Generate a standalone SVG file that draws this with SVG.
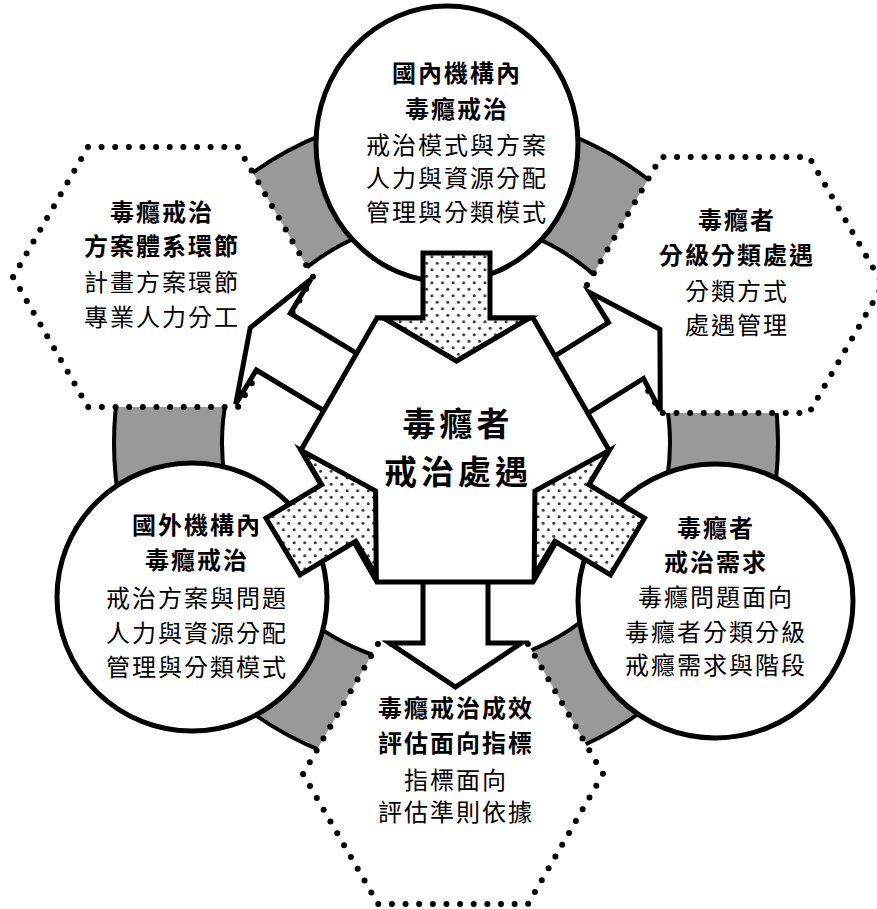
<svg xmlns="http://www.w3.org/2000/svg" width="877" height="909" viewBox="0 0 877 909">
<defs>
<pattern id="dots" patternUnits="userSpaceOnUse" width="10.6" height="13" x="0" y="0">
<rect width="10.6" height="13" fill="#fff"/>
<circle cx="2.6" cy="3.2" r="1.5" fill="#333"/>
<circle cx="7.9" cy="9.7" r="1.5" fill="#333"/>
</pattern>
<style>
.ring{fill:#999;stroke:#000;stroke-width:4;fill-rule:evenodd}
.hex{fill:#fff;stroke:#000;stroke-width:6;stroke-linecap:round;stroke-dasharray:0 13.636}
.circ{fill:#fff;stroke:#000;stroke-width:5}
.wa{fill:#fff;stroke:#000;stroke-width:5;stroke-linejoin:miter}
.da{fill:url(#dots);stroke:#000;stroke-width:5;stroke-linejoin:miter}
.core{fill:#fff;stroke:#000;stroke-width:5;stroke-linejoin:miter}
text{font-family:"Noto Sans CJK TC","Noto Sans CJK SC",sans-serif;fill:#000;text-anchor:middle}
.b{font-size:24px;font-weight:700;letter-spacing:2px}
.r{font-size:24px;font-weight:400;letter-spacing:2px}
.big{font-size:33px;font-weight:700;letter-spacing:4px}
</style>
</defs>
<rect width="877" height="909" fill="#fff"/>

<g id="ring">
<path class="ring" d="M114,443 a332,332 0 1,0 664,0 a332,332 0 1,0 -664,0 Z M222,443 a224,224 0 1,0 448,0 a224,224 0 1,0 -448,0 Z"/>
</g>

<g id="hex-program">
<polygon class="hex" points="13,277 88,147 238,147 313,277 238,407 88,407"/>
<text class="b" x="162" y="221">毒癮戒治</text>
<text class="b" x="162" y="255">方案體系環節</text>
<text class="r" x="162" y="291">計畫方案環節</text>
<text class="r" x="162" y="326">專業人力分工</text>
</g>

<g id="hex-classify">
<polygon class="hex" style="stroke-dasharray:0 13.662" points="587,285 661,157 809,157 883,285 809,413 661,413"/>
<text class="b" x="737" y="229">毒癮者</text>
<text class="b" x="737" y="264">分級分類處遇</text>
<text class="r" x="737" y="300">分類方式</text>
<text class="r" x="737" y="334">處遇管理</text>
</g>

<g id="hex-evaluate">
<polygon class="hex" points="303,774 378,644 528,644 603,774 528,904 378,904"/>
<text class="b" x="456" y="717">毒癮戒治成效</text>
<text class="b" x="456" y="752">評估面向指標</text>
<text class="r" x="456" y="789">指標面向</text>
<text class="r" x="456" y="821">評估準則依據</text>
</g>

<g id="circle-domestic">
<ellipse class="circ" cx="447" cy="144" rx="131" ry="138"/>
<text class="b" x="457" y="82">國內機構內</text>
<text class="b" x="457" y="118">毒癮戒治</text>
<text class="r" x="457" y="154">戒治模式與方案</text>
<text class="r" x="457" y="187">人力與資源分配</text>
<text class="r" x="457" y="221">管理與分類模式</text>
</g>

<g id="circle-foreign">
<ellipse class="circ" cx="192" cy="597" rx="135" ry="134"/>
<text class="b" x="197" y="534">國外機構內</text>
<text class="b" x="197" y="569">毒癮戒治</text>
<text class="r" x="197" y="607">戒治方案與問題</text>
<text class="r" x="197" y="642">人力與資源分配</text>
<text class="r" x="197" y="676">管理與分類模式</text>
</g>

<g id="circle-needs">
<ellipse class="circ" cx="715.5" cy="601" rx="137.5" ry="137"/>
<text class="b" x="716" y="537">毒癮者</text>
<text class="b" x="716" y="571">戒治需求</text>
<text class="r" x="716" y="606">毒癮問題面向</text>
<text class="r" x="716" y="641">毒癮者分類分級</text>
<text class="r" x="716" y="674">戒癮需求與階段</text>
</g>

<g id="connectors-out">
<polygon class="wa" points="384.9,447.3 256.3,370 235.7,404.3 250.2,327.8 310.9,279.1 290.3,313.4 418.9,390.7"/>
<polygon class="wa" points="481.3,402 608.5,322.5 589.7,292.4 659.9,329.3 660.3,410.6 643.5,378.5 516.3,458"/>
<polygon class="wa" points="423,520 488,520 488,643 521.5,643 455.5,687 389.5,643 423,643"/>
</g>

<g id="core">
<polygon class="core" points="377,318 533,318 609,450 533,582 377,582 301,450"/>
<text class="big" x="458" y="436">毒癮者</text>
<text class="big" x="458" y="484">戒治處遇</text>
</g>

<g id="connectors-in">
<polygon class="da" points="423,253 490,253 490,318 529.5,318 456.5,361 383.5,318 423,318"/>
<polygon class="da" points="266,518.2 321.7,484.7 301.1,450.4 375.6,490.9 376.3,575.6 355.7,541.3 300,574.8"/>
<polygon class="da" points="644.5,518.2 588.8,484.7 609.4,450.4 534.9,490.9 534.2,575.6 554.8,541.3 610.5,574.8"/>
</g>
</svg>
